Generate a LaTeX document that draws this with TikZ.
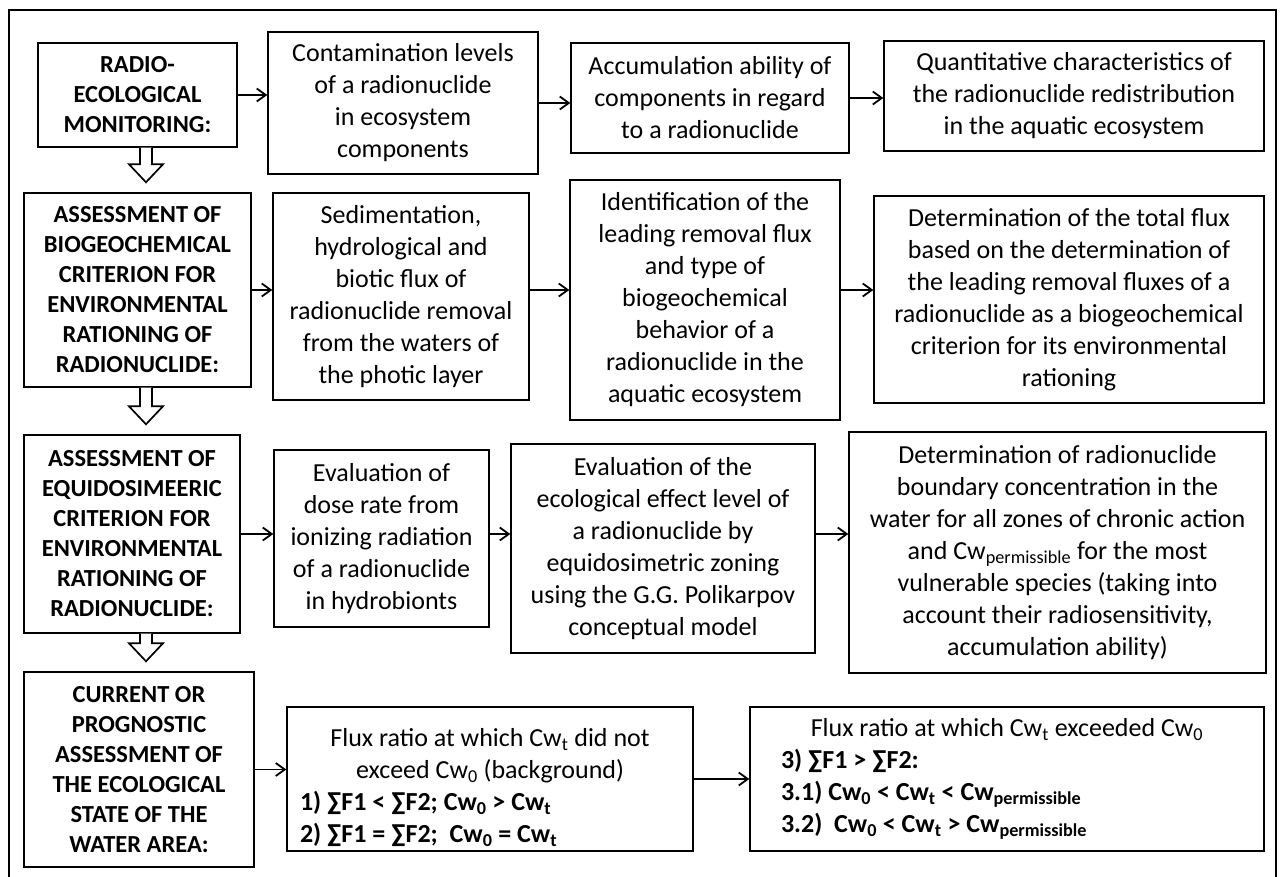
\documentclass[tikz,border=0pt]{standalone}
\usepackage{fontspec}
\setmainfont{Carlito}
\usetikzlibrary{arrows.meta,calc}

\tikzset{
  stage/.style={draw, line width=1.4pt, align=center, inner sep=0pt,
    font=\fontsize{26}{32}\selectfont},
  head/.style={stage, font=\fontsize{24.5}{30}\selectfont\bfseries},
  link/.style={line width=1.8pt, -{Straight Barb[length=9pt,width=13pt]}},
  hollow/.style={line width=1.7pt, line join=miter, fill=white}
}

\newcommand{\stagebox}[7]{%
  \node[#6, minimum width=#4pt-#2pt, minimum height=#5pt-#3pt]
    (#1) at ({(#2+#4)/2},{(#3+#5)/2}) {#7};}

\newcommand{\hollowdown}[2]{%
  \draw[hollow] let \p1=(spine |- #1.south), \p2=(spine |- #2.north) in
    (\x1-6pt,\y1) -- (\x1-6pt,\y2+28pt) -- (\x1-17pt,\y2+28pt) -- (\x1,\y2+10pt)
    -- (\x1+17pt,\y2+28pt) -- (\x1+6pt,\y2+28pt) -- (\x1+6pt,\y1);}

\begin{document}
\begin{tikzpicture}[x=1pt, y=-1pt]
  \useasboundingbox (0,0) rectangle (1281,877);
  \draw[line width=1.6pt] (9,878) -- (9,10) -- (1276,10) -- (1276,878);
  \coordinate (spine) at (146,0);

  \stagebox{radio}{38}{43}{237}{147}{head}{RADIO-\\ECOLOGICAL\\MONITORING:}
  \stagebox{contam}{268}{32}{538}{174}{stage}{Contamination levels\\of a radionuclide\\in ecosystem\\components}
  \stagebox{accum}{571}{43}{849}{153}{stage}{Accumulation ability of\\components in regard\\to a radionuclide}
  \stagebox{quant}{884}{41}{1264}{151}{stage}{Quantitative characteristics of\\the radionuclide redistribution\\in the aquatic ecosystem}

  \stagebox{biogeo}{24}{193}{251}{387}{head}{ASSESSMENT OF\\BIOGEOCHEMICAL\\CRITERION FOR\\ENVIRONMENTAL\\RATIONING OF\\RADIONUCLIDE:}
  \stagebox{sedim}{273}{193}{529}{400}{stage}{Sedimentation,\\hydrological and\\biotic flux of\\radionuclide removal\\from the waters of\\the photic layer}
  \stagebox{ident}{570}{180}{840}{420}{stage}{Identification of the\\leading removal flux\\and type of\\biogeochemical\\behavior of a\\radionuclide in the\\aquatic ecosystem}
  \stagebox{dettotal}{874}{196}{1264}{403}{stage}{Determination of the total flux\\based on the determination of\\the leading removal fluxes of a\\radionuclide as a biogeochemical\\criterion for its environmental\\rationing}

  \stagebox{equi}{24}{435}{240}{633}{head}{ASSESSMENT OF\\EQUIDOSIMEERIC\\CRITERION FOR\\ENVIRONMENTAL\\RATIONING OF\\RADIONUCLIDE:}
  \stagebox{dose}{274}{450}{489}{627}{stage}{Evaluation of\\dose rate from\\ionizing radiation\\of a radionuclide\\in hydrobionts}
  \stagebox{ecol}{511}{444}{815}{653}{stage}{Evaluation of the\\ecological effect level of\\a radionuclide by\\equidosimetric zoning\\using the G.G. Polikarpov\\conceptual model}
  \stagebox{detrad}{849}{432}{1266}{673}{stage}{Determination of radionuclide\\boundary concentration in the\\water for all zones of chronic action\\and Cw\textsubscript{permissible} for the most\\vulnerable species (taking into\\account their radiosensitivity,\\accumulation ability)}

  \stagebox{current}{24}{672}{254}{867}{head}{CURRENT OR\\PROGNOSTIC\\ASSESSMENT OF\\THE ECOLOGICAL\\STATE OF THE\\WATER AREA:}
  \stagebox{flux1}{287}{707}{693}{851}{stage, align=none, text width=380pt}{%
    {\centering\rule{0pt}{36pt}Flux ratio at which Cw\textsubscript{t} did not\\exceed Cw\textsubscript{0} (background)\par}
    {\raggedright\bfseries 1) ∑F1 < ∑F2; Cw\textsubscript{0} > Cw\textsubscript{t}\\2) ∑F1 = ∑F2;\ \ Cw\textsubscript{0} = Cw\textsubscript{t}\par}}
  \stagebox{flux2}{750}{707}{1264}{851}{stage, align=none, text width=452pt}{%
    {\centering Flux ratio at which Cw\textsubscript{t} exceeded Cw\textsubscript{0}\par}
    {\raggedright\bfseries 3) ∑F1 > ∑F2:\\3.1) Cw\textsubscript{0} < Cw\textsubscript{t} < Cw\textsubscript{permissible}\\3.2)\ \ Cw\textsubscript{0} < Cw\textsubscript{t} > Cw\textsubscript{permissible}\par}}

  \draw[link] (radio.east) -- (radio.east -| contam.west);
  \draw[link] (contam.east) -- (contam.east -| accum.west);
  \draw[link] (accum.east) -- (accum.east -| quant.west);
  \draw[link] (biogeo.east) -- (biogeo.east -| sedim.west);
  \draw[link] (biogeo.east -| sedim.east) -- (biogeo.east -| ident.west);
  \draw[link] (biogeo.east -| ident.east) -- (biogeo.east -| dettotal.west);
  \draw[link] (equi.east) -- (equi.east -| dose.west);
  \draw[link] (equi.east -| dose.east) -- (equi.east -| ecol.west);
  \draw[link] (equi.east -| ecol.east) -- (equi.east -| detrad.west);
  \draw[link] (current.east) -- (current.east -| flux1.west);
  \draw[link] (flux1.east) -- (flux1.east -| flux2.west);

  \hollowdown{radio}{biogeo}
  \hollowdown{biogeo}{equi}
  \hollowdown{equi}{current}
\end{tikzpicture}
\end{document}
